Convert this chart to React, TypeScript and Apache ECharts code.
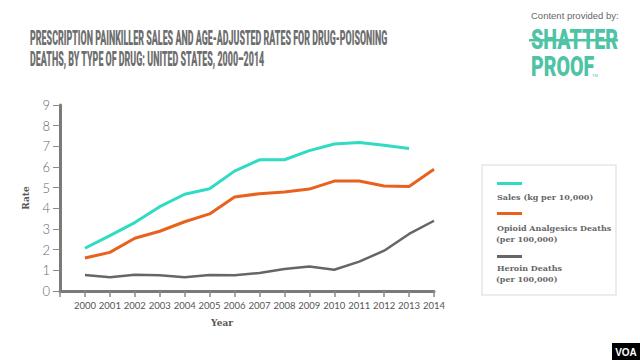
import React, { useEffect, useRef } from "react";
import * as echarts from "echarts";

const years = [2000, 2001, 2002, 2003, 2004, 2005, 2006, 2007, 2008, 2009, 2010, 2011, 2012, 2013, 2014];
const sales = [2.07, 2.68, 3.31, 4.08, 4.68, 4.95, 5.8, 6.35, 6.35, 6.79, 7.11, 7.18, 7.05, 6.9, null];
const opioid = [1.6, 1.87, 2.55, 2.89, 3.35, 3.73, 4.55, 4.71, 4.79, 4.93, 5.32, 5.32, 5.08, 5.06, 5.89];
const heroin = [0.77, 0.66, 0.79, 0.76, 0.66, 0.77, 0.76, 0.87, 1.06, 1.18, 1.03, 1.42, 1.95, 2.76, 3.4];
const seriesNames = ["Sales (kg per 10,000)", "Opioid Analgesics Deaths", "Heroin Deaths"];
const titleLines = [
  "PRESCRIPTION PAINKILLER SALES AND AGE-ADJUSTED RATES FOR DRUG-POISONING",
  "DEATHS, BY TYPE OF DRUG: UNITED STATES, 2000\u20132014",
];

const TEAL = "#2fdcc3";
const ORANGE = "#e8621e";
const GRAY = "#666666";
const LOGO = "#4fc3a5";
const SLAB = "'DejaVu Serif', serif";
const SANS = "Lato, 'Open Sans', sans-serif";

export default function App() {
  const ref = useRef<HTMLDivElement>(null);
  useEffect(() => {
    if (!ref.current) return;
    const chart = echarts.init(ref.current, null, { renderer: "svg" });
    const mk = (vals: (number | null)[]) => years.map((y, i) => [y, vals[i]]);
    const legendText = (x: number, y: number, t: string) => ({
      type: "text",
      x,
      y,
      style: { text: t, fill: "#666", font: `bold 8px ${SLAB}`, textVerticalAlign: "middle" },
    });
    chart.setOption({
      animation: false,
      backgroundColor: "#ffffff",
      grid: { left: 60, right: 206, top: 105, bottom: 69 },
      xAxis: {
        type: "value",
        min: 1999,
        max: 2014,
        interval: 1,
        axisLine: { show: true, lineStyle: { color: "#7a7a7a", width: 3 } },
        axisTick: { show: true, length: 6, lineStyle: { color: "#8a8a8a", width: 1.5 } },
        axisLabel: {
          formatter: (v: number) => (v === 1999 ? "" : String(v)),
          color: "#555",
          fontSize: 9.5,
          fontFamily: SANS,
          margin: 9,
        },
        splitLine: { show: false },
      },
      yAxis: {
        type: "value",
        min: 0,
        max: 9,
        interval: 1,
        name: "Rate",
        nameLocation: "middle",
        nameRotate: 90,
        nameGap: 30,
        nameTextStyle: { color: "#555", fontSize: 9, fontWeight: "bold", fontFamily: SLAB },
        axisLine: { show: true, lineStyle: { color: "#7a7a7a", width: 3 } },
        axisTick: { show: true, length: 7, lineStyle: { color: "#8a8a8a", width: 1 } },
        axisLabel: { color: "#666", fontSize: 13, fontFamily: SANS, fontWeight: 300, margin: 10 },
        splitLine: { show: false },
      },
      series: [
        { name: seriesNames[0], type: "line", data: mk(sales), symbol: "none", lineStyle: { color: TEAL, width: 3 }, itemStyle: { color: TEAL } },
        { name: seriesNames[1], type: "line", data: mk(opioid), symbol: "none", lineStyle: { color: ORANGE, width: 3 }, itemStyle: { color: ORANGE } },
        { name: seriesNames[2], type: "line", data: mk(heroin), symbol: "none", lineStyle: { color: GRAY, width: 2.5 }, itemStyle: { color: GRAY } },
      ],
      graphic: [
        {
          type: "text",
          x: 30,
          y: 29,
          scaleX: 0.445,
          style: { text: titleLines[0], fill: "#6e6e6e", font: `900 20px Roboto, sans-serif` },
        },
        {
          type: "text",
          x: 30,
          y: 50,
          scaleX: 0.445,
          style: { text: titleLines[1], fill: "#6e6e6e", font: `900 20px Roboto, sans-serif` },
        },
        {
          type: "text",
          x: 531,
          y: 10,
          style: { text: "Content provided by:", fill: "#666", font: `9.5px 'Liberation Sans', Arial, sans-serif` },
        },
        {
          type: "text",
          x: 531,
          y: 26,
          scaleX: 0.7,
          style: { text: "SHATTER", fill: LOGO, font: `900 28px Roboto, sans-serif` },
        },
        { type: "rect", shape: { x: 529, y: 39, width: 89, height: 2.5 }, style: { fill: LOGO } },
        {
          type: "text",
          x: 531,
          y: 53,
          scaleX: 0.7,
          style: { text: "PROOF", fill: LOGO, font: `900 28px Roboto, sans-serif` },
        },
        { type: "text", x: 592, y: 73, style: { text: "TM", fill: LOGO, font: `4px sans-serif` } },
        {
          type: "rect",
          shape: { x: 482, y: 165, width: 134, height: 130 },
          style: { fill: "#fff", stroke: "#e6e6e6", lineWidth: 1.5 },
        },
        { type: "rect", shape: { x: 497, y: 182, width: 25, height: 3 }, style: { fill: TEAL } },
        legendText(497, 197, seriesNames[0]),
        { type: "rect", shape: { x: 497, y: 212, width: 25, height: 3 }, style: { fill: ORANGE } },
        legendText(497, 228, seriesNames[1]),
        legendText(496, 239, "(per 100,000)"),
        { type: "rect", shape: { x: 497, y: 255, width: 25, height: 3 }, style: { fill: GRAY } },
        legendText(497, 268, seriesNames[2]),
        legendText(496, 279, "(per 100,000)"),
        {
          type: "text",
          x: 222,
          y: 323,
          style: { text: "Year", fill: "#555", font: `bold 9px ${SLAB}`, textAlign: "center", textVerticalAlign: "middle" },
        },
        { type: "rect", shape: { x: 612, y: 343, width: 28, height: 17 }, style: { fill: "#000" } },
        {
          type: "text",
          x: 626,
          y: 352,
          style: { text: "VOA", fill: "#fff", font: `bold 10px 'Liberation Sans', Arial, sans-serif`, textAlign: "center", textVerticalAlign: "middle" },
        },
      ],
    });
    return () => chart.dispose();
  }, []);
  return <div ref={ref} style={{ position: "fixed", left: 0, top: 0, width: 640, height: 360, background: "#fff" }} />;
}
